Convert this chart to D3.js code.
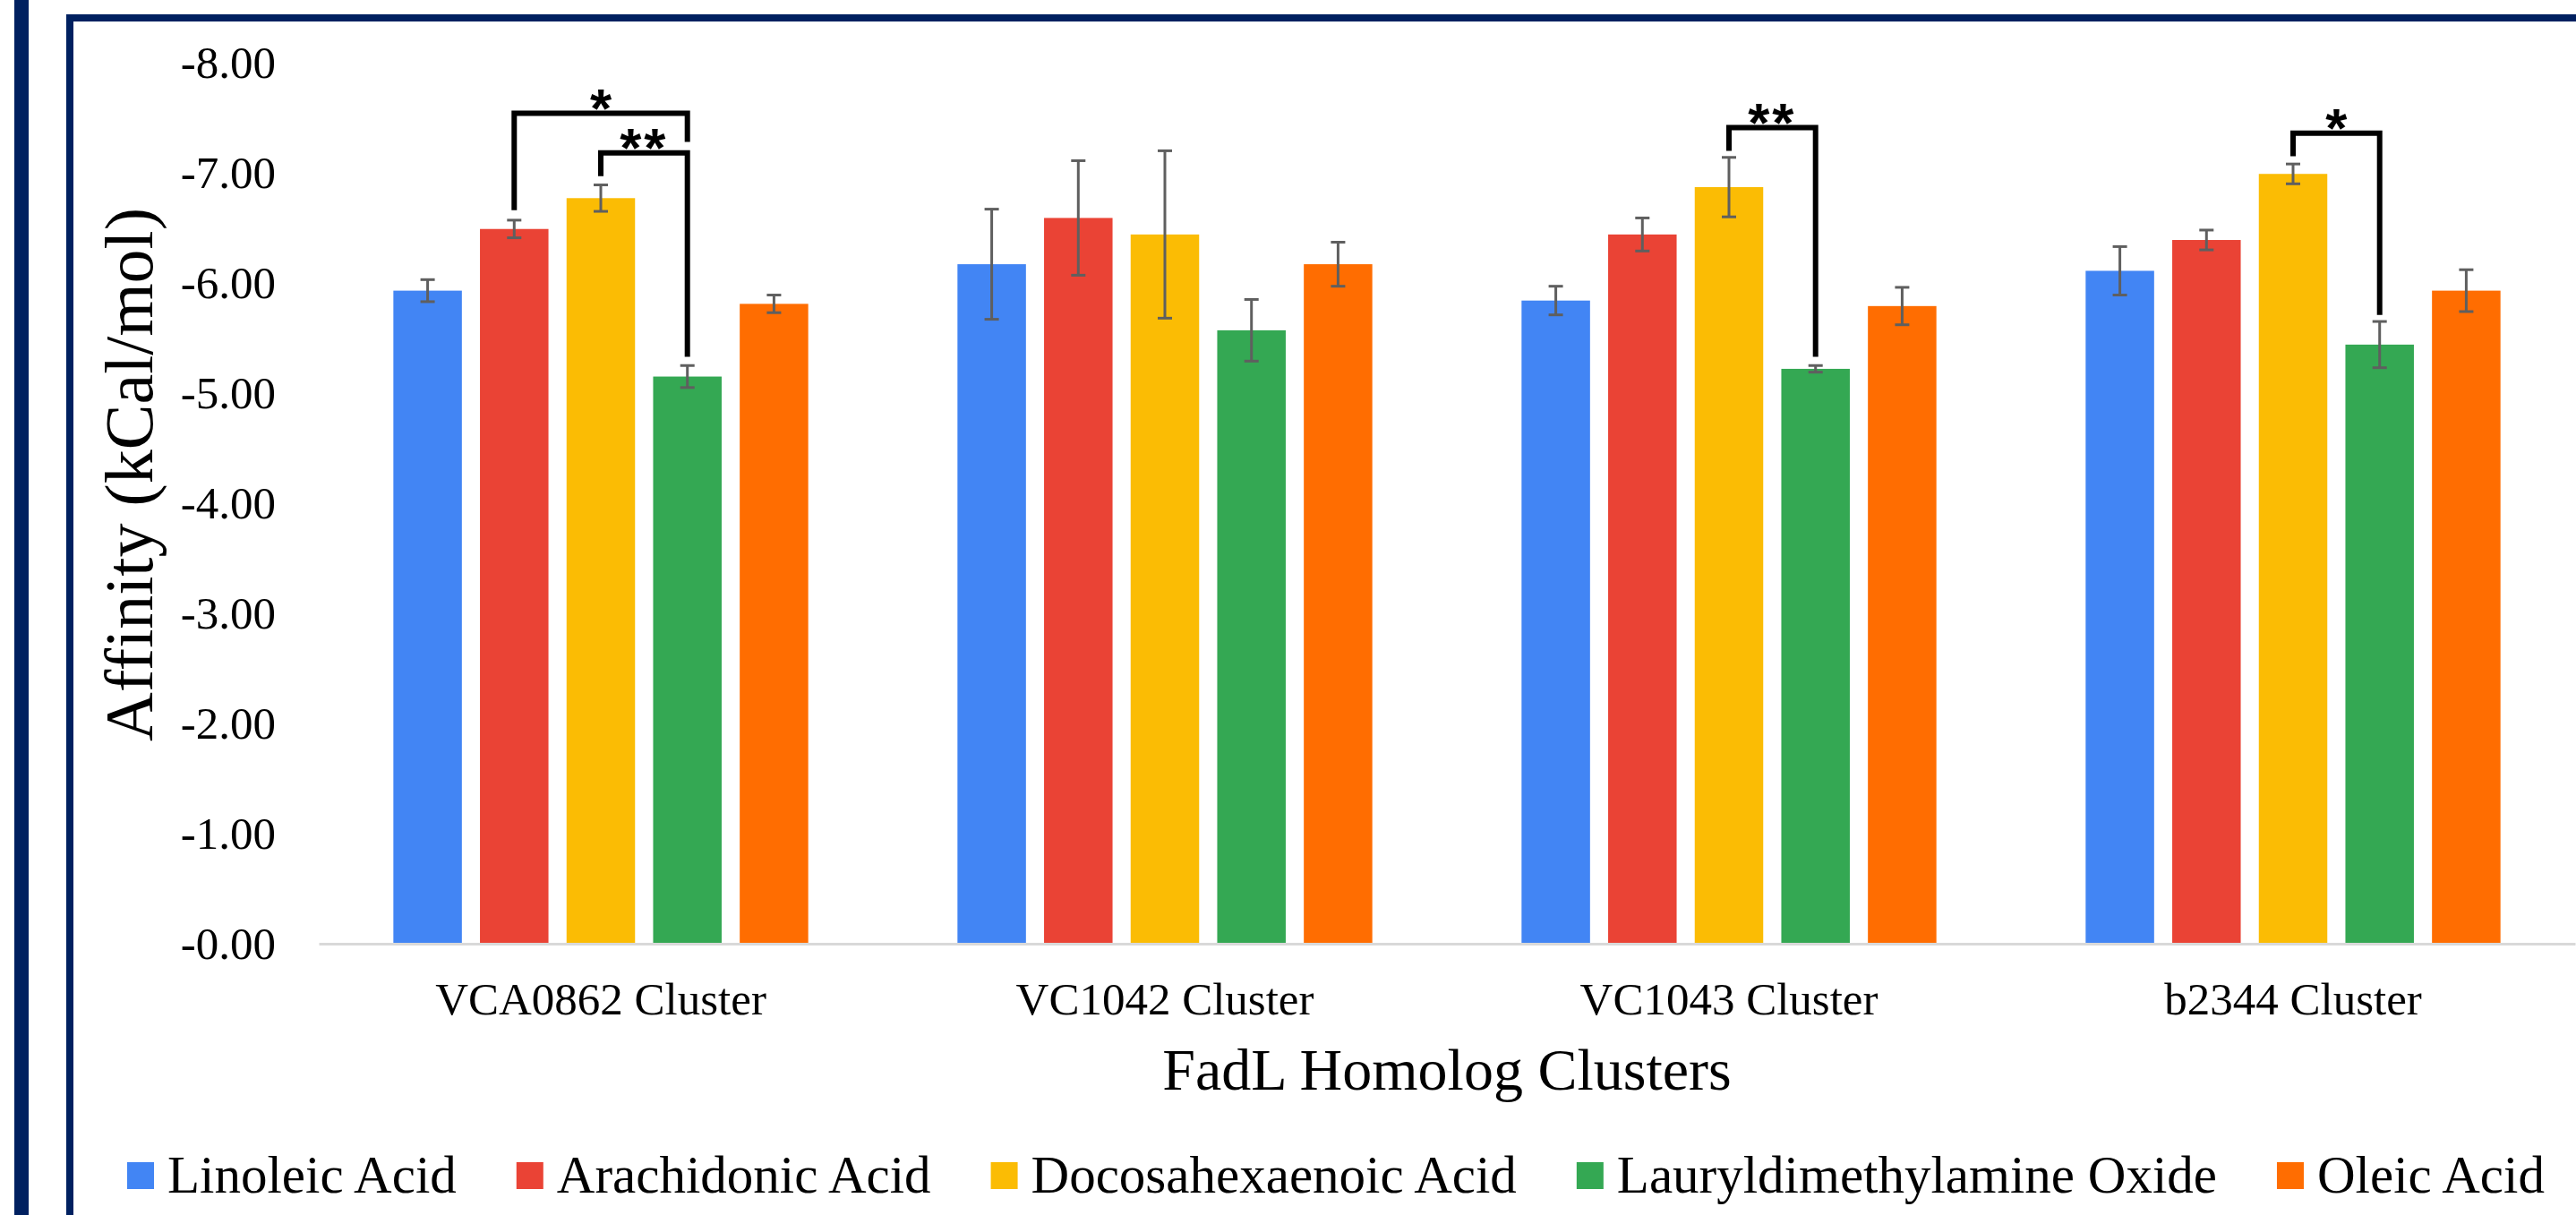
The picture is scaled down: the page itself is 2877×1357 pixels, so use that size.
<!DOCTYPE html>
<html>
<head>
<meta charset="utf-8">
<script src="https://cdn.jsdelivr.net/npm/d3@7"></script>
<style>
  html, body { margin: 0; padding: 0; background: #ffffff; }
  svg { display: block; }
</style>
</head>
<body>
<script>
// ---------- data ----------
const categories = ["VCA0862 Cluster", "VC1042 Cluster", "VC1043 Cluster", "b2344 Cluster"];
const seriesNames = ["Linoleic Acid", "Arachidonic Acid", "Docosahexaenoic Acid", "Lauryldimethylamine Oxide", "Oleic Acid"];
const seriesColors = ["#4285F4", "#EA4335", "#FBBC04", "#34A853", "#FF6D01"];

const linoleicAcid = [-5.93, -6.17, -5.84, -6.11];
const arachidonicAcid = [-6.49, -6.59, -6.44, -6.39];
const docosahexaenoicAcid = [-6.77, -6.44, -6.87, -6.99];
const lauryldimethylamineOxide = [-5.15, -5.57, -5.22, -5.44];
const oleicAcid = [-5.81, -6.17, -5.79, -5.93];

const linoleicAcidErr = [0.10, 0.50, 0.13, 0.22];
const arachidonicAcidErr = [0.08, 0.52, 0.15, 0.09];
const docosahexaenoicAcidErr = [0.12, 0.76, 0.27, 0.09];
const lauryldimethylamineOxideErr = [0.10, 0.28, 0.03, 0.21];
const oleicAcidErr = [0.08, 0.20, 0.17, 0.19];

const yTicks = [0, -1, -2, -3, -4, -5, -6, -7, -8];
const yTickLabels = ["-0.00", "-1.00", "-2.00", "-3.00", "-4.00", "-5.00", "-6.00", "-7.00", "-8.00"];

const yTitle = "Affinity (kCal/mol)";
const xTitle = "FadL Homolog Clusters";

// significance brackets
const bracketCluster = ["VCA0862 Cluster", "VCA0862 Cluster", "VC1043 Cluster", "b2344 Cluster"];
const bracketFrom = ["Arachidonic Acid", "Docosahexaenoic Acid", "Docosahexaenoic Acid", "Docosahexaenoic Acid"];
const bracketTo = ["Lauryldimethylamine Oxide", "Lauryldimethylamine Oxide", "Lauryldimethylamine Oxide", "Lauryldimethylamine Oxide"];
const bracketTop = [-7.54, -7.18, -7.41, -7.36];
const bracketFromEnd = [-6.66, -6.97, -7.20, -7.15];
const bracketToEnd = [-7.28, -5.33, -5.33, -5.71];
const bracketLabel = ["*", "**", "**", "*"];

// ---------- build ----------
const seriesValues = [linoleicAcid, arachidonicAcid, docosahexaenoicAcid, lauryldimethylamineOxide, oleicAcid];
const seriesErrors = [linoleicAcidErr, arachidonicAcidErr, docosahexaenoicAcidErr, lauryldimethylamineOxideErr, oleicAcidErr];

const W = 2877, H = 1357;
const navy = "#002060";
const serif = "'Liberation Serif', 'Times New Roman', serif";

const svg = d3.select("body").append("svg").attr("width", W).attr("height", H);
svg.append("rect").attr("width", W).attr("height", H).attr("fill", "#fff");

// frames
svg.append("rect").attr("x", 16).attr("y", 0).attr("width", 16).attr("height", H).attr("fill", navy);
svg.append("rect").attr("x", 78).attr("y", 20).attr("width", W + 100).attr("height", H + 100)
  .attr("fill", "none").attr("stroke", navy).attr("stroke-width", 8);

const y = d3.scaleLinear().domain([0, -8]).range([1054, 70]);
const x0 = d3.scaleBand().domain(categories).range([356, 2876]).padding(0);
const innerW = x0.bandwidth() * 0.7675;
const innerOff = (x0.bandwidth() - innerW) / 2;
const x1 = d3.scaleBand().domain(seriesNames).range([0, innerW]).paddingInner(0.209).paddingOuter(0.1045);
const color = d3.scaleOrdinal().domain(seriesNames).range(seriesColors);

const barX = (cat, s) => x0(cat) + innerOff + x1(s);
const barC = (cat, s) => barX(cat, s) + x1.bandwidth() / 2;

// y axis (labels only)
const yAxis = d3.axisLeft(y).tickValues(yTicks).tickFormat((d, i) => yTickLabels[i]).tickSize(0).tickPadding(48);
const gy = svg.append("g").attr("transform", "translate(356,0)").call(yAxis);
gy.select(".domain").remove();
gy.selectAll("text").attr("font-family", serif).attr("font-size", 51).attr("fill", "#000").attr("dy", "0.33em");

// bars
const rows = [];
categories.forEach((c, ci) => seriesNames.forEach((s, si) => {
  rows.push({ cat: c, s: s, v: seriesValues[si][ci], e: seriesErrors[si][ci] });
}));

svg.append("g").selectAll("rect").data(rows).join("rect")
  .attr("x", d => barX(d.cat, d.s))
  .attr("y", d => y(d.v))
  .attr("width", x1.bandwidth())
  .attr("height", d => y(0) - y(d.v))
  .attr("fill", d => color(d.s));

// x axis
const xAxis = d3.axisBottom(x0).tickSize(0).tickSizeOuter(0);
const gx = svg.append("g").attr("transform", `translate(0,${y(0)})`).call(xAxis);
gx.select(".domain").attr("stroke", "#d9d9d9").attr("stroke-width", 3);
gx.selectAll("text").attr("font-family", serif).attr("font-size", 51).attr("fill", "#000")
  .attr("y", 79).attr("dy", null);

// error bars
const eg = svg.append("g").attr("stroke", "#5f5f5f").attr("stroke-width", 3).attr("fill", "none");
rows.forEach(d => {
  const cx = barC(d.cat, d.s);
  const y1 = y(d.v - d.e), y2 = y(d.v + d.e);
  eg.append("line").attr("x1", cx).attr("x2", cx).attr("y1", y1).attr("y2", y2);
  eg.append("line").attr("x1", cx - 8).attr("x2", cx + 8).attr("y1", y1).attr("y2", y1);
  eg.append("line").attr("x1", cx - 8).attr("x2", cx + 8).attr("y1", y2).attr("y2", y2);
});

// significance brackets
const bg = svg.append("g");
bracketCluster.forEach((c, i) => {
  const xa = barC(c, bracketFrom[i]);
  const xb = barC(c, bracketTo[i]);
  const yt = y(bracketTop[i]);
  bg.append("path")
    .attr("d", `M${xa},${y(bracketFromEnd[i])}V${yt}H${xb}V${y(bracketToEnd[i])}`)
    .attr("fill", "none").attr("stroke", "#000").attr("stroke-width", 6)
    .attr("stroke-linejoin", "miter");
  bg.append("text")
    .attr("x", (xa + xb) / 2)
    .attr("y", yt - 19 + 34)
    .attr("text-anchor", "middle")
    .attr("font-family", "'Liberation Sans', Arial, sans-serif")
    .attr("font-weight", "bold")
    .attr("font-size", 62)
    .attr("letter-spacing", bracketLabel[i].length > 1 ? 3 : 0)
    .attr("fill", "#000")
    .text(bracketLabel[i]);
});

// axis titles
svg.append("text")
  .attr("transform", "translate(170,530) rotate(-90)")
  .attr("text-anchor", "middle")
  .attr("font-family", serif).attr("font-size", 76).attr("fill", "#000")
  .text(yTitle);

svg.append("text")
  .attr("x", (356 + 2876) / 2).attr("y", 1217)
  .attr("text-anchor", "middle")
  .attr("font-family", serif).attr("font-size", 66).attr("fill", "#000")
  .text(xTitle);

// legend
const lg = svg.append("g");
let lx = 142;
seriesNames.forEach((s, i) => {
  lg.append("rect").attr("x", lx).attr("y", 1298).attr("width", 30).attr("height", 30).attr("fill", seriesColors[i]);
  const t = lg.append("text").attr("x", lx + 45).attr("y", 1332)
    .attr("font-family", serif).attr("font-size", 59).attr("fill", "#000").text(s);
  lx = lx + 45 + t.node().getComputedTextLength() + 67;
});
</script>
</body>
</html>
